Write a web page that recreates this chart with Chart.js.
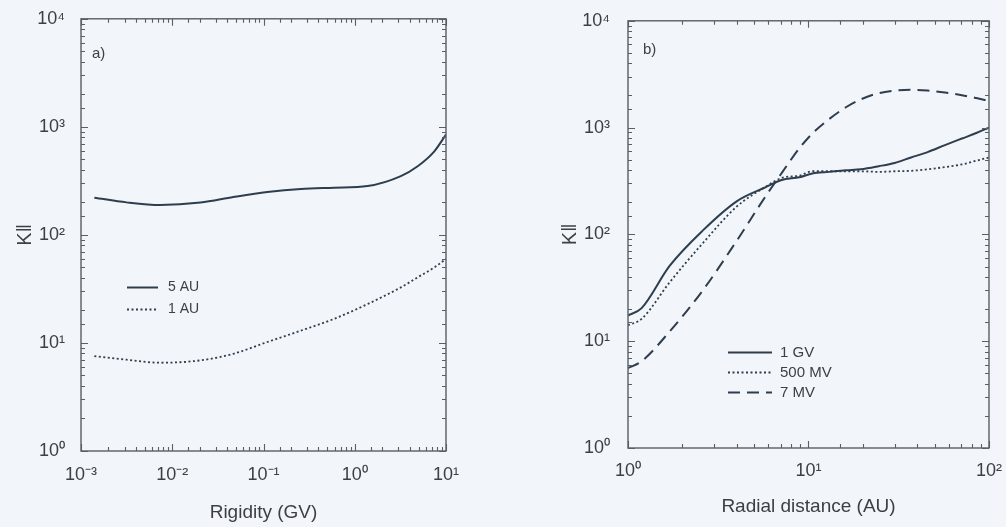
<!DOCTYPE html>
<html>
<head>
<meta charset="utf-8">
<script src="https://cdn.jsdelivr.net/npm/chart.js@4.4.0/dist/chart.umd.min.js"></script>
<style>
  html, body { margin: 0; padding: 0; background: #f2f5f9; }
  body { width: 1006px; height: 527px; position: relative; overflow: hidden; }
  .panel { position: absolute; top: 0; }
  #left { left: 0; }
  #right { left: 500px; }
</style>
</head>
<body>
<div class="panel" id="left"><canvas id="chartA" width="500" height="527"></canvas></div>
<div class="panel" id="right"><canvas id="chartB" width="506" height="527"></canvas></div>
<script>
// panel a) : kappa_parallel vs rigidity
const rigidity = [0.0014, 0.00316, 0.0074, 0.0204, 0.0468, 0.11, 0.257, 0.593, 1.38, 3.2, 4.89, 7.45, 10];
const kappa5AU = [221, 200, 189, 199, 224, 249, 266, 273, 283, 350, 432, 594, 848];
const kappa1AU = [7.55, 7.0, 6.56, 6.9, 7.94, 10.2, 13, 16.7, 22.9, 32.7, 40.5, 50, 60];

// panel b) : kappa_parallel vs radial distance
const radialDist = [1, 1.19, 1.7, 2.6, 4, 5.8, 7.1, 8.9, 10.5, 13, 16.2, 19.5, 24.5, 30, 37, 45.7, 57, 70.8, 85, 100];
const kappa1GV = [17.4, 20.4, 50.7, 109, 204, 277, 323, 343, 372, 385, 398, 407, 435, 467, 525, 590, 685, 790, 890, 1000];
const kappa500MV = [14.1, 16.2, 35.5, 83, 182, 280, 338, 355, 390, 390, 390, 390, 385, 390, 394, 407, 427, 452, 490, 525];
const kappa7MV = [5.6, 6.5, 12.3, 30, 87, 229, 375, 640, 880, 1200, 1560, 1840, 2100, 2220, 2260, 2220, 2130, 2010, 1890, 1780];

const lineColor = "#2e3e4e";
const axisColor = "#5a5f66";
const textColor = "#3c3f44";
const fontFamily = "'Liberation Sans Narrow', 'Liberation Sans', Arial, sans-serif";

const sup = { "-": "\u207B", "0": "\u2070", "1": "\u00B9", "2": "\u00B2", "3": "\u00B3", "4": "\u2074" };

function isDecade(v) {
    const e = Math.log10(v);
    return Math.abs(e - Math.round(e)) < 1e-6;
}

function powerLabel(v) {
    if (!isDecade(v)) return "";
    const e = Math.round(Math.log10(v));
    return "10" + String(e).split("").map(c => sup[c]).join("");
}

function pairs(xs, ys) {
    return xs.map((x, i) => ({ x: x, y: ys[i] }));
}

// frame with inward ticks on all four sides, panel tag and in-plot legend
const frameTicks = {
    id: "frameTicks",
    afterDraw(chart, args, opts) {
        const { ctx, chartArea: a, scales } = chart;
        const x = scales.x, y = scales.y;
        ctx.save();
        ctx.strokeStyle = axisColor;
        ctx.lineWidth = 1.4;
        ctx.strokeRect(a.left, a.top, a.right - a.left, a.bottom - a.top);

        ctx.lineWidth = 1.1;
        ctx.beginPath();
        x.ticks.forEach(t => {
            const px = Math.round(x.getPixelForValue(t.value)) + 0.5;
            const len = isDecade(t.value) ? 7 : 4;
            ctx.moveTo(px, a.bottom); ctx.lineTo(px, a.bottom - len);
            ctx.moveTo(px, a.top); ctx.lineTo(px, a.top + len);
        });
        y.ticks.forEach(t => {
            const py = Math.round(y.getPixelForValue(t.value)) + 0.5;
            const len = isDecade(t.value) ? 7 : 4;
            ctx.moveTo(a.left, py); ctx.lineTo(a.left + len, py);
            ctx.moveTo(a.right, py); ctx.lineTo(a.right - len, py);
        });
        ctx.stroke();

        ctx.fillStyle = textColor;
        ctx.font = "15px " + fontFamily;
        ctx.textBaseline = "middle";
        ctx.textAlign = "left";
        ctx.fillText(opts.tag, a.left + opts.tagDx, a.top + opts.tagDy);

        // legend
        const lg = opts.legend;
        ctx.font = lg.size + "px " + fontFamily;
        chart.data.datasets.forEach((ds, i) => {
            const ly = Math.round(a.top + lg.dy + i * lg.row) + 0.5;
            const lx = a.left + lg.dx;
            ctx.strokeStyle = ds.borderColor;
            ctx.lineWidth = ds.borderWidth;
            ctx.setLineDash(ds.borderDash || []);
            ctx.beginPath();
            ctx.moveTo(lx, ly);
            ctx.lineTo(lx + lg.len, ly);
            ctx.stroke();
            ctx.setLineDash([]);
            ctx.fillText(ds.label, lx + lg.len + lg.gap, ly);
        });
        ctx.restore();
    }
};

function makeChart(id, cfg) {
    return new Chart(document.getElementById(id), {
        type: "line",
        data: { datasets: cfg.datasets },
        options: {
            responsive: false,
            animation: false,
            layout: { padding: cfg.padding },
            elements: { point: { radius: 0 }, line: { cubicInterpolationMode: "monotone" } },
            plugins: {
                legend: { display: false },
                tooltip: { enabled: false },
                frameTicks: cfg.frame
            },
            scales: {
                x: {
                    type: "logarithmic",
                    min: cfg.xMin,
                    max: cfg.xMax,
                    grid: { display: false },
                    border: { display: false },
                    afterFit: s => { s.height = cfg.xHeight; },
                    ticks: {
                        autoSkip: false,
                        maxRotation: 0,
                        padding: cfg.xTickPad,
                        color: textColor,
                        font: { family: fontFamily, size: 18 },
                        callback: v => powerLabel(v)
                    },
                    title: {
                        display: true,
                        text: cfg.xTitle,
                        color: textColor,
                        font: { family: fontFamily, size: 19 },
                        padding: cfg.xTitlePad
                    }
                },
                y: {
                    type: "logarithmic",
                    min: 1,
                    max: 10000,
                    grid: { display: false },
                    border: { display: false },
                    afterFit: s => { s.width = cfg.yWidth; },
                    ticks: {
                        autoSkip: false,
                        padding: cfg.yTickPad,
                        color: textColor,
                        font: { family: fontFamily, size: 18 },
                        callback: v => powerLabel(v)
                    },
                    title: {
                        display: true,
                        text: "K\u2016",
                        color: textColor,
                        font: { family: fontFamily, size: 20 },
                        padding: 8
                    }
                }
            }
        },
        plugins: [frameTicks]
    });
}

makeChart("chartA", {
    datasets: [
        { label: "5 AU", data: pairs(rigidity, kappa5AU), borderColor: lineColor, borderWidth: 2, fill: false },
        { label: "1 AU", data: pairs(rigidity, kappa1AU), borderColor: lineColor, borderWidth: 1.8, borderDash: [2, 2.5], fill: false }
    ],
    padding: { left: 5, right: 54, top: 17, bottom: 0 },
    xMin: 0.001, xMax: 10, xHeight: 76, yWidth: 76, yTickPad: 8, xTickPad: 5,
    xTitle: "Rigidity (GV)", xTitlePad: 3,
    frame: {
        tag: "a)", tagDx: 11, tagDy: 35,
        legend: { dx: 46, dy: 268, row: 22, len: 31, gap: 10, size: 14 }
    }
});

makeChart("chartB", {
    datasets: [
        { label: "1 GV", data: pairs(radialDist, kappa1GV), borderColor: lineColor, borderWidth: 2, fill: false },
        { label: "500 MV", data: pairs(radialDist, kappa500MV), borderColor: lineColor, borderWidth: 1.8, borderDash: [2, 2.5], fill: false },
        { label: "7 MV", data: pairs(radialDist, kappa7MV), borderColor: lineColor, borderWidth: 2, borderDash: [12, 7], fill: false }
    ],
    padding: { left: 50, right: 15, top: 14, bottom: 0 },
    xMin: 1, xMax: 100, xHeight: 79, yWidth: 78, yTickPad: 10, xTickPad: 4,
    xTitle: "Radial distance (AU)", xTitlePad: 9,
    frame: {
        tag: "b)", tagDx: 15, tagDy: 29,
        legend: { dx: 100, dy: 331, row: 20, len: 44, gap: 8, size: 15 }
    }
});
</script>
</body>
</html>
